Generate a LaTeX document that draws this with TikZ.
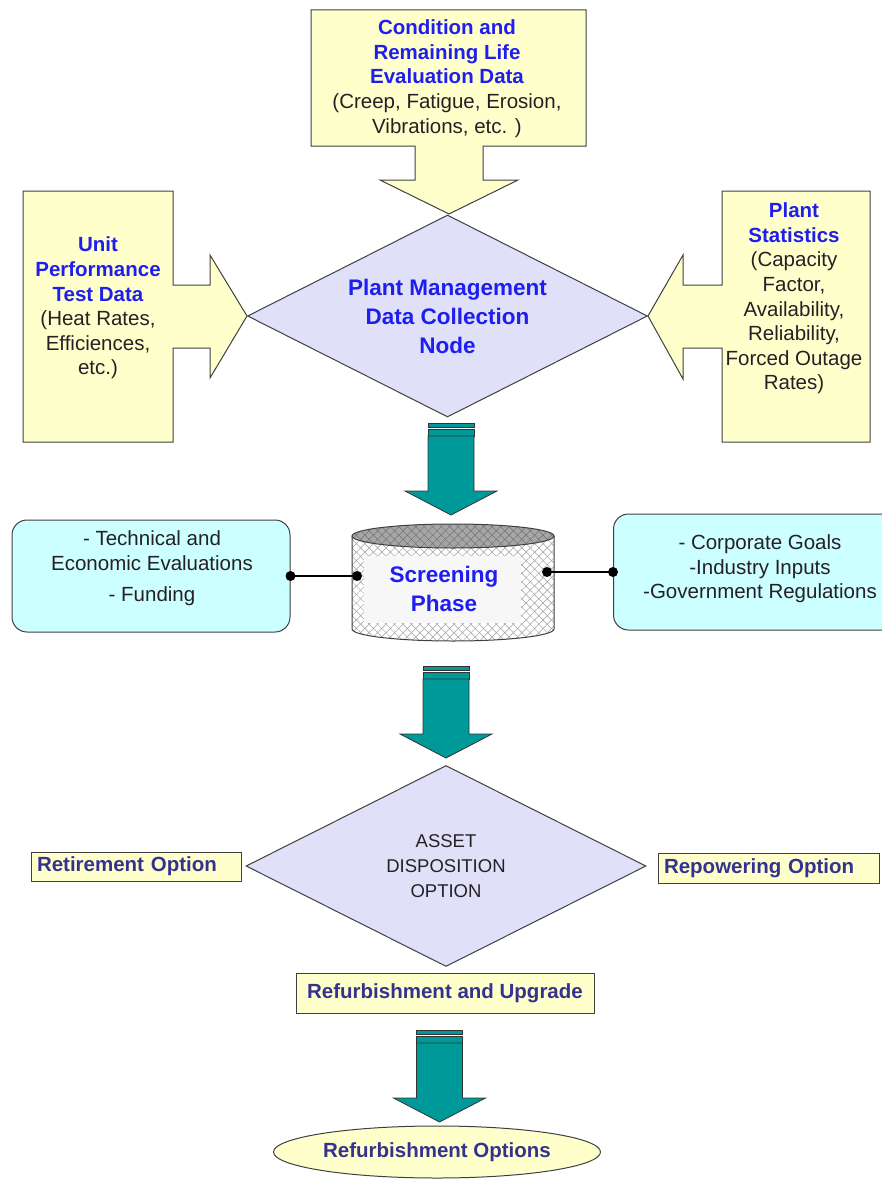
\documentclass[tikz,border=0pt]{standalone}
\usepackage{fontspec}
\setmainfont{Liberation Sans}
\usetikzlibrary{shapes.geometric,patterns.meta}

\definecolor{paleyellow}{HTML}{FFFFCC}
\definecolor{diamondfill}{HTML}{E0E0F8}
\definecolor{headblue}{HTML}{1E1EEE}
\definecolor{bodytext}{HTML}{262026}
\definecolor{optiontext}{HTML}{33338F}
\definecolor{tealfill}{HTML}{009999}
\definecolor{paleblue}{HTML}{CCFFFF}
\definecolor{edgegray}{HTML}{404040}

\newcommand\hd[1]{{\color{headblue}\bfseries #1}}

\tikzset{
  callout/.style={draw=edgegray, fill=paleyellow, line width=1pt},
  tealbar/.style={draw=black!80, fill=tealfill, line width=0.8pt},
  sidebox/.style={draw=edgegray, fill=paleblue, line width=1pt, rounded corners=15pt},
  optbox/.style={draw=edgegray, fill=paleyellow, line width=1pt, inner ysep=0pt,
    font=\bfseries\fontsize{20.5}{24}\selectfont, text=optiontext},
  decision/.style={diamond, draw=edgegray, fill=diamondfill, line width=1pt,
    aspect=2, inner sep=0pt, align=center},
  txt/.style={align=center, text=bodytext, font=\fontsize{20.5}{24.6}\selectfont},
  wire/.style={line width=2.4pt}
}

\def\tealarrow(#1,#2){
  \begin{scope}[shift={(#1,#2)}]
    \draw[tealbar] (-23,0) rectangle (23,4);
    \draw[tealbar] (-23,6) rectangle (23,13);
    \draw[tealbar] (-23,13) -- (23,13) -- (23,68) -- (46,68) -- (0,92) -- (-46,68) -- (-23,68) -- cycle;
  \end{scope}}

\begin{document}
\begin{tikzpicture}[x=1pt, y=-1pt]
  \useasboundingbox (0,0) rectangle (882,1180);

  %%%%% INPUT CALLOUTS %%%%%
  \draw[callout] (311,10) -- (586,10) -- (586,146) -- (483,146) -- (483,180) -- (518,180)
    -- (449,214) -- (380,180) -- (415,180) -- (415,146) -- (311,146) -- cycle;
  \node[txt] (condtext) at (447,78.5)
    {\hd{Condition and}\\\hd{Remaining Life}\\\hd{Evaluation Data}\\(Creep, Fatigue, Erosion,\\Vibrations, etc. )};

  \draw[callout] (23,191) -- (173,191) -- (173,285) -- (210,285) -- (210,255) -- (247,316)
    -- (210,378) -- (210,348) -- (173,348) -- (173,442) -- (23,442) -- cycle;
  \node[txt] (unittext) at (98,308)
    {\hd{Unit}\\\hd{Performance}\\\hd{Test Data}\\(Heat Rates,\\Efficiences,\\etc.)};

  \draw[callout] (870,191) -- (722,191) -- (722,285) -- (683,285) -- (683,255) -- (648,316)
    -- (683,379) -- (683,348) -- (722,348) -- (722,442) -- (870,442) -- cycle;
  \node[txt] (stattext) at (794,298.5)
    {\hd{Plant}\\\hd{Statistics}\\(Capacity\\Factor,\\Availability,\\Reliability,\\Forced Outage\\Rates)};

  \node[decision, minimum width=400pt, minimum height=202pt,
    font=\bfseries\fontsize{22.5}{29}\selectfont, text=headblue] (plantnode) at (447.5,316)
    {Plant Management\\Data Collection\\Node};

  \tealarrow(451,423)

  %%%%% SCREENING %%%%%
  \fill[white] (352,536) -- (352,629) arc[start angle=180, end angle=360, x radius=101pt, y radius=12pt] -- (554,536) -- cycle;
  \foreach \ang in {45,-45}
    \fill[pattern={Lines[angle=\ang, distance=6pt, line width=0.5pt]}, pattern color=gray!75]
      (352,536) -- (352,629) arc[start angle=180, end angle=360, x radius=101pt, y radius=12pt] -- (554,536) -- cycle;
  \fill[black!35] (453,536) ellipse[x radius=101pt, y radius=12pt];
  \foreach \ang in {45,-45}
    \fill[pattern={Lines[angle=\ang, distance=6pt, line width=0.5pt]}, pattern color=black!55]
      (453,536) ellipse[x radius=101pt, y radius=12pt];
  \fill[black!3] (364,556) rectangle (521,623);
  \draw[edgegray, line width=1pt] (352,536) -- (352,629)
    arc[start angle=180, end angle=360, x radius=101pt, y radius=12pt] -- (554,536);
  \draw[edgegray, line width=1pt] (453,536) ellipse[x radius=101pt, y radius=12pt];
  \node[align=center, font=\bfseries\fontsize{22.5}{29}\selectfont, text=headblue] (screentext)
    at (444,589) {Screening\\Phase};
  \coordinate (cylW) at (357,576);
  \coordinate (cylE) at (547,572);

  \node[sidebox, minimum width=278pt, minimum height=112pt] (techbox) at (151,576) {};
  \node[txt] (techtext) at (152,568.5) {- Technical and\\Economic Evaluations\\[7pt]- Funding};
  \node[sidebox, minimum width=300pt, minimum height=116pt, anchor=west] (goalbox) at (613,572) {};
  \node[txt] (goaltext) at (760,569) {- Corporate Goals\\-Industry Inputs\\-Government Regulations};

  \draw[wire] (techbox.east) -- (cylW);
  \draw[wire] (cylE) -- (goalbox.west);
  \foreach \p in {techbox.east, cylW, cylE, goalbox.west}
    \fill (\p) circle (5pt);

  \tealarrow(446,666)

  %%%%% DISPOSITION %%%%%
  \node[decision, minimum width=400pt, minimum height=201pt,
    font=\fontsize{18.5}{25}\selectfont, text=bodytext] (assetnode) at (446,866)
    {ASSET\\DISPOSITION\\OPTION};
  \node[optbox, text width=198pt, inner xsep=6pt, minimum height=29pt] (retire) at (136,866.5) {Retirement Option};
  \node[optbox, text width=209pt, inner xsep=6pt, minimum height=30pt] (repower) at (768.5,868) {Repowering Option};
  \node[optbox, minimum width=298pt, minimum height=40pt] (refurb) at (445,993) {Refurbishment and Upgrade};

  \tealarrow(439.5,1030)

  \node[ellipse, draw=edgegray, fill=paleyellow, line width=1pt, minimum width=327pt,
    minimum height=52pt, inner sep=0pt, font=\bfseries\fontsize{20.5}{24}\selectfont,
    text=optiontext] (refopts) at (437,1152) {Refurbishment Options};
\end{tikzpicture}
\end{document}
